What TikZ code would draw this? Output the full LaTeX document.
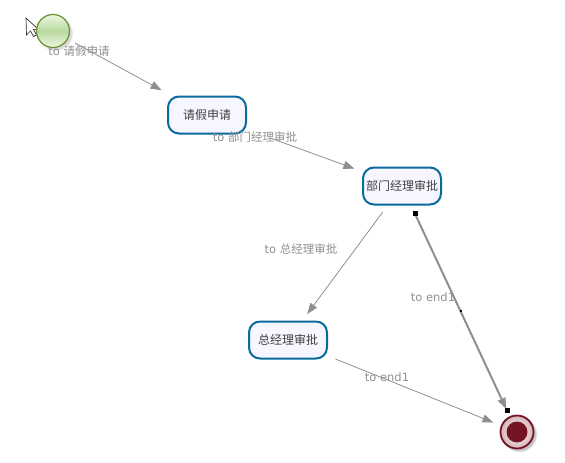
\documentclass[tikz,border=0pt]{standalone}
\usepackage{fontspec}
\setmainfont{DejaVu Sans}
\newfontfamily\cjkfont{Noto Sans CJK SC}
\usetikzlibrary{arrows.meta,shadows}
\definecolor{taskblue}{HTML}{0B6A9C}
\definecolor{taskfill}{HTML}{F5F6FF}
\definecolor{startgreen}{HTML}{6B8E2F}
\definecolor{startpale}{HTML}{EAF8DE}
\definecolor{startmid}{HTML}{B9D9A0}
\definecolor{endred}{HTML}{741525}
\definecolor{flowgray}{HTML}{8F8F8F}
\begin{document}
\begin{tikzpicture}[
	x = 1pt, y = -1pt,
	task/.style = {draw=taskblue, line width=2pt, fill=taskfill, rectangle, rounded corners=11pt, minimum width=78pt, minimum height=37pt, inner sep=0pt, text=black!75, font=\cjkfont\fontsize{12}{14}\selectfont},
	startev/.style = {draw=startgreen, line width=1.2pt, circle, minimum size=33pt, inner sep=0pt, top color=startpale, bottom color=startpale, middle color=startmid, circular drop shadow={shadow xshift=2pt, shadow yshift=-2pt, opacity=.3}},
	endev/.style = {draw=endred, line width=1.8pt, circle, minimum size=33pt, inner sep=0pt, inner color=white, outer color=endred!32!white, circular drop shadow={shadow xshift=2pt, shadow yshift=-2pt, opacity=.5}, path picture={\fill[endred] (path picture bounding box.center) circle (10.5pt);}},
	flow/.style = {draw=flowgray, line width=.8pt, -{Triangle[length=11pt,width=8pt]}, shorten <=8pt, shorten >=8pt},
	selflow/.style = {flow, line width=2pt},
	flowlabel/.style = {text=flowgray, inner sep=0pt, font=\fontsize{11.5}{14}\selectfont},
	grip/.style = {fill=black, rectangle, inner sep=0pt, minimum size=5pt},
	minigrip/.style = {grip, minimum size=2pt}
	]
	\useasboundingbox (0,0) rectangle (565,463);
	
	\draw[fill=white, draw=black!80, line width=.7pt] (26,18) -- (26.5,35) -- (30.5,31) -- (33.5,36.5) -- (36.5,35) -- (33.5,29.5) -- (38,29) -- cycle;
	
	\node[startev] (start) at (53,31) {};
	\node[task] (apply) at (207,115) {请假申请};
	\node[task] (dept) at (402,186) {部门经理审批};
	\node[task] (gm) at (288,340) {总经理审批};
	\node[endev] (end1) at (517,432) {};
	
	\draw[flow, shorten >=11pt] (start) -- (apply);
	\draw[flow, shorten <=26pt] (apply) -- (dept);
	\draw[flow] (dept) -- (gm);
	\draw[selflow] (dept) -- (end1);
	\draw[flow] (gm) -- (end1);
	
	\node[flowlabel] (lbapply) at (79,51) {to {\cjkfont 请假申请}};
	\node[flowlabel] (lbdept) at (255,137) {to {\cjkfont 部门经理审批}};
	\node[flowlabel] (lbgm) at (301,249) {to {\cjkfont 总经理审批}};
	\node[flowlabel] (lbdeptend) at (433,297) {to end1};
	\node[flowlabel] (lbgmend) at (387,377) {to end1};
	
	\node[grip] (gripa) at (415,213) {};
	\node[minigrip] (gripb) at (461,311) {};
	\node[grip] (gripc) at (507,410) {};
\end{tikzpicture}
\end{document}
